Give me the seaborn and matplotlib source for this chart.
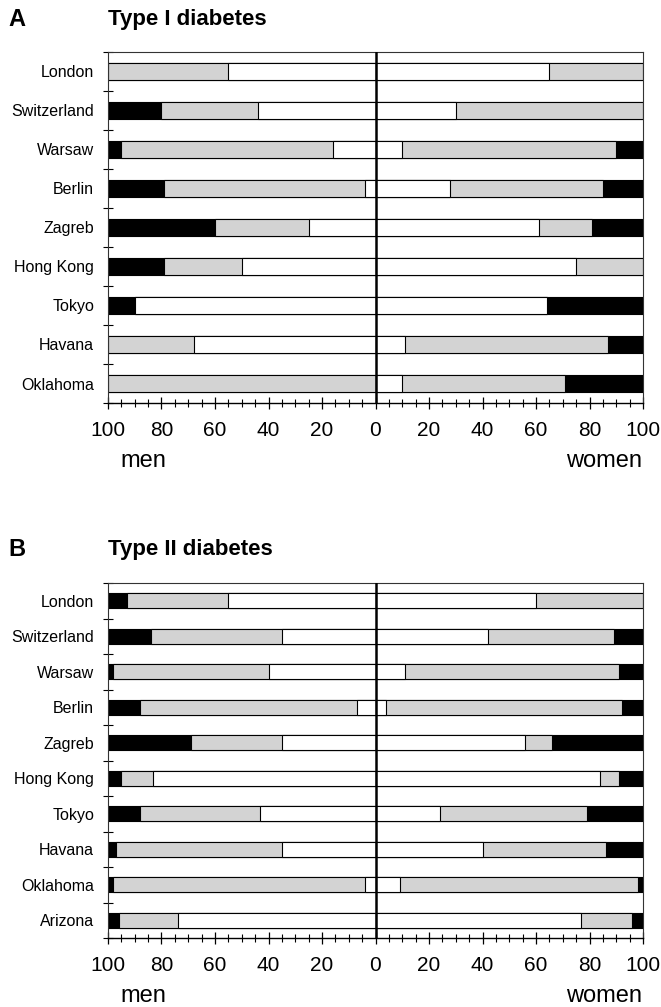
import numpy as np
import matplotlib
matplotlib.use('Agg')
import matplotlib.pyplot as plt
import seaborn as sns

# --- data: % shares (white = remainder to 100) ---
cities_1 = ['London', 'Switzerland', 'Warsaw', 'Berlin', 'Zagreb',
            'Hong Kong', 'Tokyo', 'Havana', 'Oklahoma']
men_black_1   = [0, 20, 5, 21, 40, 21, 10, 0, 0]
men_grey_1    = [45, 36, 79, 75, 35, 29, 0, 32, 100]
women_grey_1  = [35, 70, 80, 57, 20, 25, 0, 76, 61]
women_black_1 = [0, 0, 10, 15, 19, 0, 36, 13, 29]

cities_2 = ['London', 'Switzerland', 'Warsaw', 'Berlin', 'Zagreb',
            'Hong Kong', 'Tokyo', 'Havana', 'Oklahoma', 'Arizona']
men_black_2   = [7, 16, 2, 12, 31, 5, 12, 3, 2, 4]
men_grey_2    = [38, 49, 58, 81, 34, 12, 45, 62, 94, 22]
women_grey_2  = [40, 47, 80, 88, 10, 7, 55, 46, 89, 19]
women_black_2 = [0, 11, 9, 8, 34, 9, 21, 14, 2, 4]

x_ticks = [-100, -80, -60, -40, -20, 0, 20, 40, 60, 80, 100]
x_ticklabels = ['100', '80', '60', '40', '20', '0', '20', '40', '60', '80', '100']

GREY = '#d3d3d3'

sns.set_style('white')
plt.rcParams['font.family'] = ['Liberation Sans', 'DejaVu Sans']
plt.rcParams['text.color'] = 'black'
plt.rcParams['xtick.color'] = 'black'
plt.rcParams['ytick.color'] = 'black'
plt.rcParams['xtick.labelcolor'] = 'black'
plt.rcParams['ytick.labelcolor'] = 'black'

W, H = 661, 1007
fig = plt.figure(figsize=(W / 100, H / 100), dpi=100)
fig.patch.set_facecolor('white')


def draw_panel(ax, cities, m_black, m_grey, w_grey, w_black):
    m_black = np.array(m_black); m_grey = np.array(m_grey)
    w_grey = np.array(w_grey); w_black = np.array(w_black)
    m_white = 100 - m_black - m_grey
    w_white = 100 - w_grey - w_black
    # stacked from the centre outwards: draw the longest first
    layers = [
        (-(m_white + m_grey + m_black), 'black'),
        (-(m_white + m_grey), GREY),
        (-m_white, 'white'),
        (w_white + w_grey + w_black, 'black'),
        (w_white + w_grey, GREY),
        (w_white, 'white'),
    ]
    for vals, col in layers:
        sns.barplot(x=vals, y=cities, orient='h', color=col, saturation=1,
                    edgecolor='black', linewidth=0.8, width=0.42, ax=ax)
    n = len(cities)
    ax.set_xlim(-100, 100)
    ax.set_ylim(n - 0.5, -0.5)
    ax.axvline(0, color='black', lw=1.8, zorder=6)
    ax.set_xlabel('')
    ax.set_ylabel('')

    ax.set_xticks(x_ticks)
    ax.set_xticklabels(x_ticklabels, fontsize=15)
    ax.set_xticks(np.arange(-100, 101, 5), minor=True)
    ax.tick_params(axis='x', which='major', direction='inout', length=8,
                   width=0.9, pad=9, color='black', bottom=True)
    ax.tick_params(axis='x', which='minor', direction='inout', length=5.5,
                   width=0.8, color='black', bottom=True)

    ax.set_yticks(range(n))
    ax.set_yticklabels(cities, fontsize=11.5)
    ax.set_yticks(np.arange(-0.5, n, 1.0), minor=True)
    ax.tick_params(axis='y', which='major', length=0, pad=10)
    ax.tick_params(axis='y', which='minor', direction='inout', length=7,
                   width=0.8, color='black', left=True)

    for side in ['left', 'right', 'top']:
        ax.spines[side].set_visible(True)
        ax.spines[side].set_color('#333333')
        ax.spines[side].set_linewidth(0.8)
    ax.spines['bottom'].set_color('black')
    ax.spines['bottom'].set_linewidth(1.0)
    ax.set_facecolor('white')


def px_axes(left, top, right, bottom):
    return fig.add_axes([left / W, 1 - bottom / H, (right - left) / W, (bottom - top) / H])


ax1 = px_axes(108, 52, 643, 403)
draw_panel(ax1, cities_1, men_black_1, men_grey_1, women_grey_1, women_black_1)

ax2 = px_axes(108, 583, 643, 938)
draw_panel(ax2, cities_2, men_black_2, men_grey_2, women_grey_2, women_black_2)

for letter, title, y in [('A', 'Type I diabetes', 19), ('B', 'Type II diabetes', 549)]:
    fig.text(8 / W, 1 - y / H, letter, fontsize=17, fontweight='bold',
             va='center', ha='left')
    fig.text(108 / W, 1 - y / H, title, fontsize=16, fontweight='bold',
             va='center', ha='left')

for y in [461, 996]:
    fig.text(143 / W, 1 - y / H, 'men', fontsize=17, va='center', ha='center')
    fig.text(604 / W, 1 - y / H, 'women', fontsize=17, va='center', ha='center')

fig.savefig('out.png', dpi=100, facecolor='white')
